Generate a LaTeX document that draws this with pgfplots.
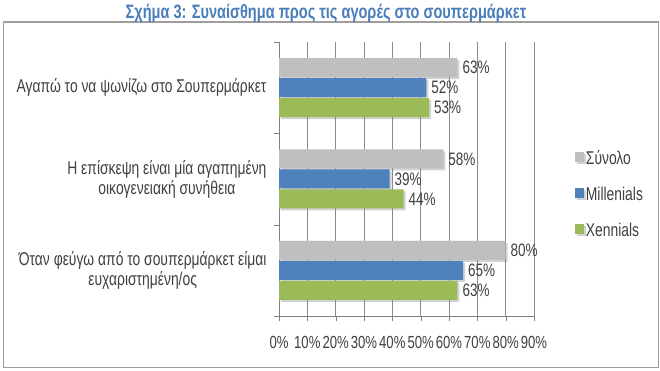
\documentclass[border=0pt]{standalone}
\usepackage{fontspec}
\setmainfont{Liberation Sans}[FakeStretch=0.75]
\usepackage{pgfplots}
\pgfplotsset{compat=1.18}
\usetikzlibrary{shadows}
\definecolor{cgray}{HTML}{BFBFBF}
\definecolor{cblue}{HTML}{4F81BD}
\definecolor{cgreen}{HTML}{9BBB59}
\definecolor{ctitle}{HTML}{4A7EBB}
\definecolor{ctext}{HTML}{404040}
\begin{document}
\begin{tikzpicture}[x=1pt,y=1pt]
\useasboundingbox (0,0) rectangle (660,371);
\fill[white] (0,0) rectangle (660,371);
\draw[color=black!38, line width=1.5pt] (3.5,3.5) rectangle (658.5,349);
\node[font=\bfseries\fontsize{19.4}{22}\selectfont, text=ctitle] at (326,357.5) {Σχήμα 3: Συναίσθημα προς τις αγορές στο σουπερμάρκετ};
\begin{axis}[
  at={(279pt,55pt)}, anchor=south west,
  scale only axis, width=255pt, height=274pt,
  xbar, bar width=19pt,
  y dir=reverse,
  xmin=0, xmax=90,
  ymin=0.5, ymax=3.5,
  xtick={0,10,...,90},
  xticklabel={\pgfmathprintnumber{\tick}\%},
  /pgf/number format/assume math mode=true,
  ytick={1,2,3},
  yticklabels={{Αγαπώ το να ψωνίζω στο Σουπερμάρκετ},{Η επίσκεψη είναι μία αγαπημένη\\οικογενειακή συνήθεια},{Όταν φεύγω από το σουπερμάρκετ είμαι\\ευχαριστημένη/ος}},
  yticklabel style={align=center, font=\fontsize{18.5}{20}\selectfont, text=ctext, xshift=-4pt},
  xticklabel style={font=\fontsize{17.5}{20}\selectfont, text=ctext, yshift=-12pt},
  major y tick style={draw=none},
  minor ytick={0.5,1.5,2.5,3.5},
  minor y tick style={draw=black!50},
  tick align=outside,
  major tick length=5pt, minor tick length=5pt,
  xmajorgrids, grid style={black!45, line width=0.6pt},
  axis lines*=left,
  axis line style={black!50, line width=0.9pt},
  x tick style={black!50},
  nodes near coords={\pgfmathprintnumber{\pgfplotspointmeta}\%},
  nodes near coords style={font=\fontsize{18}{20}\selectfont, text=ctext, xshift=1.5pt},
  legend style={at={(1.148,0.62)}, anchor=north west, draw=none, fill=none,
    font=\fontsize{18.5}{20}\selectfont, text=ctext, row sep=17pt, cells={anchor=west}},
  legend image code/.code={\fill[#1,draw=none] (0pt,-4pt) rectangle (9pt,6pt);},
  clip=false,
]
\addplot[fill=cgray, draw=none, bar shift=20pt, drop shadow={shadow xshift=2pt, shadow yshift=-2pt, opacity=0.35}] coordinates {(63,1) (58,2) (80,3)};
\addplot[fill=cblue, draw=none, bar shift=0pt, drop shadow={shadow xshift=2pt, shadow yshift=-2pt, opacity=0.35}] coordinates {(52,1) (39,2) (65,3)};
\addplot[fill=cgreen, draw=none, bar shift=-20pt, drop shadow={shadow xshift=2pt, shadow yshift=-2pt, opacity=0.35}] coordinates {(53,1) (44,2) (63,3)};
\legend{Σύνολο, Millenials, Xennials}
\end{axis}
\end{tikzpicture}
\end{document}
